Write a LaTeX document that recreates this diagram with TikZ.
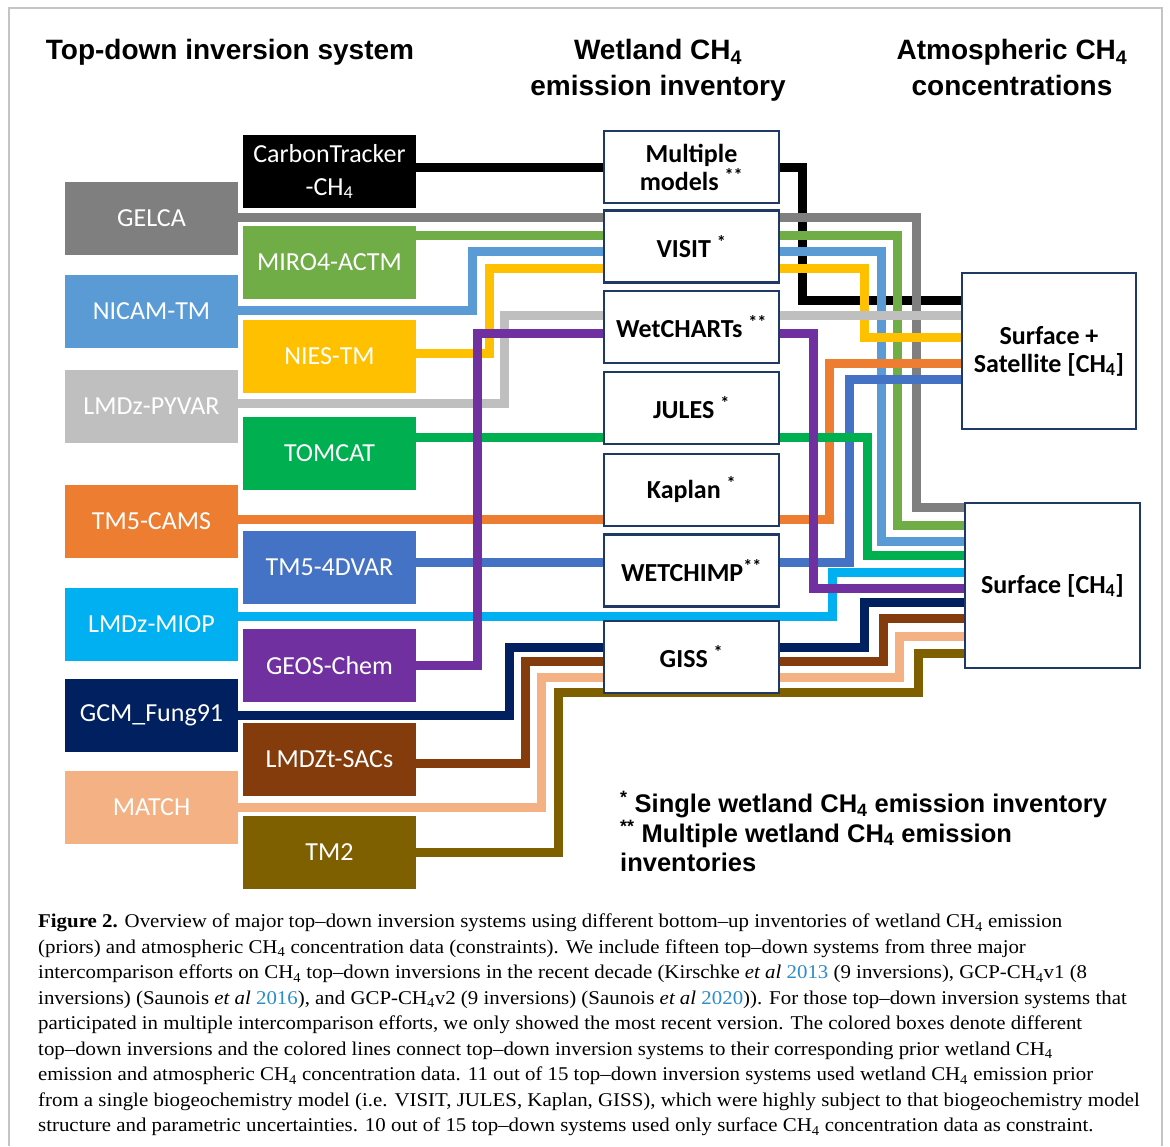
\documentclass[tikz,border=0pt]{standalone}
\usepackage{fontspec}
\setmainfont[FakeStretch=1.07]{Liberation Serif}
\newfontfamily\boxfont{Carlito}
\newfontfamily\headfont{Liberation Sans}
\usetikzlibrary{backgrounds}
\definecolor{cBlack}{HTML}{000000}
\definecolor{cGray}{HTML}{7F7F7F}
\definecolor{cGreenA}{HTML}{70AD47}
\definecolor{cBlueA}{HTML}{5B9BD5}
\definecolor{cYellow}{HTML}{FFC000}
\definecolor{cLGray}{HTML}{BFBFBF}
\definecolor{cGreenB}{HTML}{00B050}
\definecolor{cOrange}{HTML}{ED7D31}
\definecolor{cBlueB}{HTML}{4472C4}
\definecolor{cCyan}{HTML}{00B0F0}
\definecolor{cPurple}{HTML}{7030A0}
\definecolor{cNavy}{HTML}{002060}
\definecolor{cBrown}{HTML}{843C0C}
\definecolor{cPeach}{HTML}{F4B183}
\definecolor{cOlive}{HTML}{7F6000}
\definecolor{boxnavy}{HTML}{1F3864}
\definecolor{framecol}{HTML}{C4C4C4}
\definecolor{citeblue}{HTML}{2A8CC8}
\newcommand{\chf}{CH\textsubscript{4}}
\newcommand{\stars}[1]{\textsuperscript{#1}}
\newcommand{\etal}{\textit{et al}}
\begin{document}
\begin{tikzpicture}[x=1pt,y=-1pt,
  lbox/.style={minimum width=173pt, minimum height=73pt, inner sep=0pt, text=white, align=center,
    font=\boxfont\fontsize{26}{33}\selectfont},
  mbox/.style={draw=boxnavy, line width=2.5pt, fill=white, minimum width=175pt, minimum height=72pt,
    inner sep=0pt, align=center, font=\boxfont\bfseries\fontsize{26}{28}\selectfont},
  rbox/.style={draw=boxnavy, line width=2.5pt, fill=white, inner sep=0pt, align=center,
    font=\boxfont\bfseries\fontsize{26}{28}\selectfont},
  title/.style={inner sep=0pt, align=center, font=\headfont\bfseries\fontsize{28}{36}\selectfont},
  legendtext/.style={inner sep=0pt, align=left, font=\headfont\bfseries\fontsize{25.5}{29.5}\selectfont},
  captext/.style={inner sep=0pt, align=left, font=\fontsize{19.5}{25.5}\selectfont},
  conn/.style={line width=9pt, line join=miter}]
\useasboundingbox (0,0) rectangle (1170,1146);
\draw[framecol, line width=1.5pt] (9,1146) -- (9,8) -- (1162,8) -- (1162,1146);

% titles
\node[title, anchor=base] (t1) at (230,59) {Top-down inversion system};
\node[title, anchor=north] (t2) at (658,39) {Wetland \chf\\emission inventory};
\node[title, anchor=north] (t3) at (1012,39) {Atmospheric \chf\\concentrations};

% left column
\node[lbox, fill=cGray]   (gelca) at (151.5,218)   {GELCA};
\node[lbox, fill=cBlueA]  (nicam) at (151.5,311.5) {NICAM-TM};
\node[lbox, fill=cLGray]  (pyvar) at (151.5,406)   {LMDz-PYVAR};
\node[lbox, fill=cOrange] (cams)  at (151.5,521.5) {TM5-CAMS};
\node[lbox, fill=cCyan]   (miop)  at (151.5,624.5) {LMDz-MIOP};
\node[lbox, fill=cNavy]   (gcm)   at (151.5,715.5) {GCM\_Fung91};
\node[lbox, fill=cPeach]  (match) at (151.5,807.5) {MATCH};
% second column
\node[lbox, fill=cBlack]  (ct)     at (329.5,171.5) {CarbonTracker\\-\chf};
\node[lbox, fill=cGreenA] (miro)   at (329.5,262)   {MIRO4-ACTM};
\node[lbox, fill=cYellow] (nies)   at (329.5,356.5) {NIES-TM};
\node[lbox, fill=cGreenB] (tomcat) at (329.5,453)   {TOMCAT};
\node[lbox, fill=cBlueB]  (dvar)   at (329.5,567)   {TM5-4DVAR};
\node[lbox, fill=cPurple] (geos)   at (329.5,665.5) {GEOS-Chem};
\node[lbox, fill=cBrown]  (lmdzt)  at (329.5,759)   {LMDZt-SACs};
\node[lbox, fill=cOlive]  (tm2)    at (329.5,852)   {TM2};
% wetland inventories
\node[mbox] (mult)     at (691.5,167)   {Multiple\\models \stars{**}};
\node[mbox] (visit)    at (691.5,246.5) {VISIT \stars{*}};
\node[mbox] (wetc)     at (691.5,327)   {WetCHARTs \stars{**}};
\node[mbox] (jules)    at (691.5,408)   {JULES \stars{*}};
\node[mbox] (kaplan)   at (691.5,490)   {Kaplan \stars{*}};
\node[mbox] (wetchimp) at (691.5,570.5) {WETCHIMP\stars{**}};
\node[mbox] (giss)     at (691.5,657)   {GISS \stars{*}};
% atmospheric data
\node[rbox, minimum width=174pt, minimum height=156pt] (sat)  at (1049,351)    {Surface +\\Satellite [\chf]};
\node[rbox, minimum width=175pt, minimum height=165pt] (surf) at (1052.5,585.5) {Surface [\chf]};

% connectors
\begin{scope}[on background layer]
\draw[conn, cBlack] (ct.east |- 0,167) -- (mult.west |- 0,167);
\draw[conn, cBlack] (mult.east |- 0,167) -| (802,300) -- (sat.west |- 0,300);
\draw[conn, cGray] (gelca.east |- 0,217) -- (visit.west |- 0,217);
\draw[conn, cGray] (visit.east |- 0,217) -| (916,507) -- (surf.west |- 0,507);
\draw[conn, cGreenA] (miro.east |- 0,235) -- (visit.west |- 0,235);
\draw[conn, cGreenA] (visit.east |- 0,235) -| (897,525) -- (surf.west |- 0,525);
\draw[conn, cBlueA] (nicam.east |- 0,310) -| (472,251) -- (visit.west |- 0,251);
\draw[conn, cBlueA] (visit.east |- 0,251) -| (881,541) -- (surf.west |- 0,541);
\draw[conn, cYellow] (nies.east |- 0,353) -| (489,268) -- (visit.west |- 0,268);
\draw[conn, cYellow] (visit.east |- 0,268) -| (864,337) -- (sat.west |- 0,337);
\draw[conn, cLGray] (pyvar.east |- 0,403) -| (504,315) -- (wetc.west |- 0,315);
\draw[conn, cLGray] (wetc.east |- 0,315) -- (sat.west |- 0,315);
\draw[conn, cOrange] (cams.east |- 0,519) -- (kaplan.west |- 0,519);
\draw[conn, cOrange] (kaplan.east |- 0,519) -| (829,363) -- (sat.west |- 0,363);
\draw[conn, cBlueB] (dvar.east |- 0,562) -- (wetchimp.west |- 0,562);
\draw[conn, cBlueB] (wetchimp.east |- 0,562) -| (849,379) -- (sat.west |- 0,379);
\draw[conn, cGreenB] (tomcat.east |- 0,437) -- (jules.west |- 0,437);
\draw[conn, cGreenB] (jules.east |- 0,437) -| (867,555) -- (surf.west |- 0,555);
\draw[conn, cCyan] (miop.east |- 0,616) -| (832,572) -- (surf.west |- 0,572);
\draw[conn, cPurple] (geos.east |- 0,665) -| (477,333) -- (wetc.west |- 0,333);
\draw[conn, cPurple] (wetc.east |- 0,333) -| (813,588) -- (surf.west |- 0,588);
\draw[conn, cNavy] (gcm.east |- 0,715) -| (509,647) -- (giss.west |- 0,647);
\draw[conn, cNavy] (giss.east |- 0,647) -| (864,602) -- (surf.west |- 0,602);
\draw[conn, cBrown] (lmdzt.east |- 0,763) -| (525,661) -- (giss.west |- 0,661);
\draw[conn, cBrown] (giss.east |- 0,661) -| (883,618) -- (surf.west |- 0,618);
\draw[conn, cPeach] (match.east |- 0,807) -| (541,677) -- (giss.west |- 0,677);
\draw[conn, cPeach] (giss.east |- 0,677) -| (899,636) -- (surf.west |- 0,636);
\draw[conn, cOlive] (tm2.east |- 0,852) -| (558,692) -| (918,653) -- (surf.west |- 0,653);
\end{scope}

% legend
\node[legendtext, anchor=north west] (legend) at (620,791)
  {\stars{*} Single wetland \chf{} emission inventory\\
   \stars{**} Multiple wetland \chf{} emission\\
   inventories};

% caption
\node[captext, anchor=north west] (caption) at (38,914)
  {\textbf{Figure 2.} Overview of major top–down inversion systems using different bottom–up inventories of wetland \chf{} emission\\
   (priors) and atmospheric \chf{} concentration data (constraints). We include fifteen top–down systems from three major\\
   intercomparison efforts on \chf{} top–down inversions in the recent decade (Kirschke \etal{} {\color{citeblue}2013} (9 inversions), GCP-\chf{}v1 (8\\
   inversions) (Saunois \etal{} {\color{citeblue}2016}), and GCP-\chf{}v2 (9 inversions) (Saunois \etal{} {\color{citeblue}2020})). For those top–down inversion systems that\\
   participated in multiple intercomparison efforts, we only showed the most recent version. The colored boxes denote different\\
   top–down inversions and the colored lines connect top–down inversion systems to their corresponding prior wetland \chf\\
   emission and atmospheric \chf{} concentration data. 11 out of 15 top–down inversion systems used wetland \chf{} emission prior\\
   from a single biogeochemistry model (i.e. VISIT, JULES, Kaplan, GISS), which were highly subject to that biogeochemistry model\\
   structure and parametric uncertainties. 10 out of 15 top–down systems used only surface \chf{} concentration data as constraint.};
\end{tikzpicture}
\end{document}
